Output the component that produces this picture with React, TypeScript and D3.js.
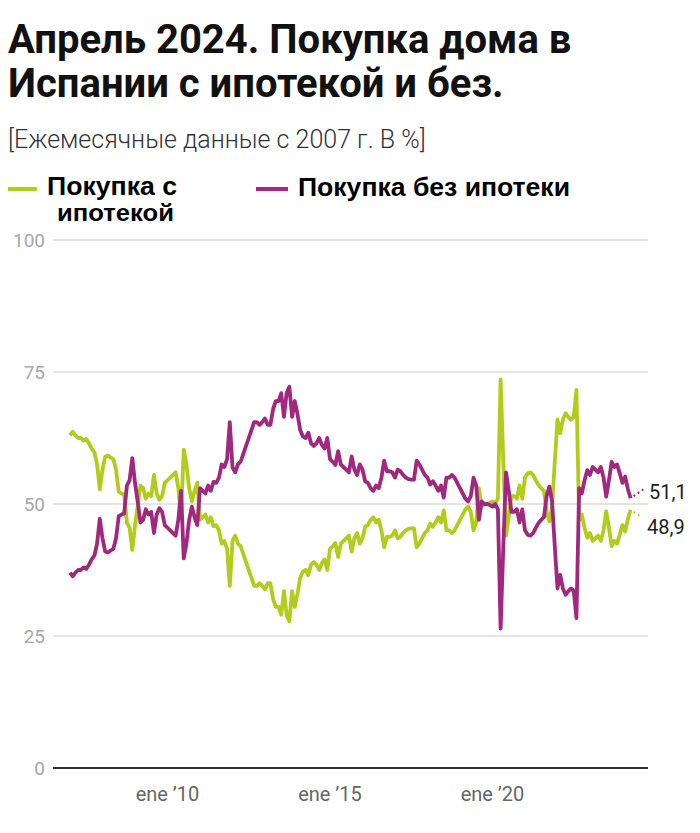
import React from "react";
import * as d3 from "d3";

const titleLines = ["Апрель 2024. Покупка дома в", "Испании с ипотекой и без."];
const subtitle = "[Ежемесячные данные с 2007 г. В %]";
const seriesNames = ["Покупка с", "ипотекой", "Покупка без ипотеки"];

// Monthly shares, Jan 2007 – Apr 2024 (%)
const conHipoteca = [
  63.0, 63.7, 63.0, 62.5, 62.5, 62.0, 62.3, 61.5, 60.5, 59.8, 57.5, 52.8,
  56.5, 59.0, 59.2, 58.8, 58.5, 56.5, 52.3, 52.0, 51.8, 46.5, 45.5, 41.3,
  46.0, 49.5, 53.5, 53.0, 51.0, 52.0, 51.5, 55.5, 52.0, 50.8, 51.5, 54.0,
  54.5, 55.0, 55.5, 56.0, 53.0, 47.5, 60.3, 57.5, 53.0, 50.5, 52.5, 54.0,
  47.0, 47.5, 48.0, 46.5, 47.5, 45.8, 46.0, 45.0, 42.5, 43.0, 41.5, 34.5,
  43.0, 44.0, 42.5, 42.0, 40.5, 39.0, 37.5, 36.0, 34.5, 34.5, 35.0, 34.5,
  33.8, 35.0, 35.0, 32.0, 30.5, 30.5, 29.0, 33.5, 29.0, 27.8, 33.5, 30.5,
  33.0, 36.0, 37.2, 37.5, 36.5, 38.5, 39.0, 38.5, 37.5, 38.8, 39.5, 37.5,
  41.5, 42.0, 42.6, 40.0, 42.5, 43.0, 43.5, 44.0, 41.0, 43.5, 44.5, 42.5,
  43.5, 45.7, 46.0, 47.0, 47.5, 46.5, 47.0, 45.0, 41.8, 43.8, 43.8, 44.0,
  45.0, 43.5, 43.8, 44.5, 45.0, 45.3, 45.4, 45.4, 41.8, 42.5, 43.5, 44.5,
  45.0, 46.3, 45.7, 46.5, 47.5, 46.5, 48.8, 45.0, 45.0, 44.5, 45.0, 46.0,
  47.0, 48.0, 49.0, 49.5, 48.5, 45.0, 46.5, 53.0, 49.5, 50.0, 50.0, 50.2,
  50.5, 50.0, 51.0, 73.6, 58.0, 44.0, 47.5, 51.5, 51.5, 51.0, 53.5, 51.0,
  55.0, 55.8, 56.0, 55.5, 54.5, 53.6, 53.0, 52.5, 48.5, 46.7, 49.5, 58.0,
  66.0, 63.4, 66.0, 67.2, 66.5, 66.0, 66.5, 71.6, 47.0, 48.0, 45.5, 43.6,
  44.5, 43.0, 43.5, 44.0, 43.0, 45.0, 48.6, 45.5, 42.0, 43.0, 42.5, 44.2,
  46.0, 44.8, 47.2, 48.9,
];

const sinHipoteca = [
  37.0, 36.3, 37.0, 37.5, 37.5, 38.0, 37.7, 38.5, 39.5, 40.2, 42.5, 47.2,
  43.5, 41.0, 40.8, 41.2, 41.5, 43.5, 47.7, 48.0, 48.2, 53.5, 54.5, 58.7,
  54.0, 50.5, 46.5, 47.0, 49.0, 48.0, 48.5, 44.5, 48.0, 49.2, 48.5, 46.0,
  45.5, 45.0, 44.5, 44.0, 47.0, 52.5, 39.7, 42.5, 47.0, 49.5, 47.5, 46.0,
  53.0, 52.5, 52.0, 53.5, 52.5, 54.2, 54.0, 55.0, 57.5, 57.0, 58.5, 65.5,
  57.0, 56.0, 57.5, 58.0, 59.5, 61.0, 62.5, 64.0, 65.5, 65.5, 65.0, 65.5,
  66.2, 65.0, 65.0, 68.0, 69.5, 69.5, 71.0, 66.5, 71.0, 72.2, 66.5, 69.5,
  67.0, 64.0, 62.8, 62.5, 63.5, 61.5, 61.0, 61.5, 62.5, 61.2, 60.5, 62.5,
  58.5, 58.0, 57.4, 60.0, 57.5, 57.0, 56.5, 56.0, 59.0, 56.5, 55.5, 57.5,
  56.5, 54.3, 54.0, 53.0, 52.5, 53.5, 53.0, 55.0, 58.2, 56.2, 56.2, 56.0,
  55.0, 56.5, 56.2, 55.5, 55.0, 54.7, 54.6, 54.6, 58.2, 57.5, 56.5, 55.5,
  55.0, 53.7, 54.3, 53.5, 52.5, 53.5, 51.2, 55.0, 55.0, 55.5, 55.0, 54.0,
  53.0, 52.0, 51.0, 50.5, 51.5, 55.0, 53.5, 47.0, 50.5, 50.0, 50.0, 49.8,
  49.5, 50.0, 49.0, 26.4, 42.0, 56.0, 52.5, 48.5, 48.5, 49.0, 46.5, 49.0,
  45.0, 44.2, 44.0, 44.5, 45.5, 46.4, 47.0, 47.5, 51.5, 53.3, 50.5, 42.0,
  34.0, 36.6, 34.0, 32.8, 33.5, 34.0, 33.5, 28.4, 53.0, 52.0, 54.5, 56.4,
  55.5, 57.0, 56.5, 56.0, 57.0, 55.0, 51.4, 54.5, 58.0, 57.0, 57.5, 55.8,
  54.0, 55.2, 52.8, 51.1,
];

const yTicks = [0, 25, 50, 75, 100];
const xTickMonths = [36, 96, 156];
const xTickLabels = ["ene ’10", "ene ’15", "ene ’20"];
const endLabels = ["51,1", "48,9"];

const GREEN = "#b2cc1c";
const PURPLE = "#a2287f";
const LEGEND_FONT = "'Liberation Sans', Arial, sans-serif";

export default function App() {
  const W = 700;
  const H = 833;
  const n = conHipoteca.length;
  const x = d3.scaleLinear().domain([0, n - 1]).range([70, 630.6]);
  const y = d3.scaleLinear().domain([0, 100]).range([768, 240]);
  const line = d3
    .line<number>()
    .x((_, i) => x(i))
    .y((v) => y(v));

  const lastX = x(n - 1);
  const lastP = y(sinHipoteca[n - 1]);
  const lastG = y(conHipoteca[n - 1]);

  return (
    <svg
      width={W}
      height={H}
      style={{ position: "absolute", left: 0, top: 0, background: "#fff" }}
    >
      {/* Title */}
      {titleLines.map((t, i) => (
        <text
          key={t}
          x={8}
          y={53 + i * 44}
          fontFamily="Roboto, 'Liberation Sans', sans-serif"
          fontWeight={700}
          fontSize={40}
          fill="#111"
        >
          {t}
        </text>
      ))}
      <text
        x={8}
        y={148}
        fontFamily="Roboto, sans-serif"
        fontWeight={300}
        fontSize={25}
        fill="#333"
      >
        {subtitle}
      </text>

      {/* Legend */}
      <line x1={8} x2={37} y1={189} y2={189} stroke={GREEN} strokeWidth={4} />
      <text x={47} y={195} fontFamily={LEGEND_FONT} fontWeight={700} fontSize={25} fill="#000" textLength={130} lengthAdjust="spacingAndGlyphs">
        {seriesNames[0]}
      </text>
      <text x={57} y={221} fontFamily={LEGEND_FONT} fontWeight={700} fontSize={23} fill="#000" textLength={117} lengthAdjust="spacingAndGlyphs">
        {seriesNames[1]}
      </text>
      <line x1={256} x2={288} y1={189} y2={189} stroke={PURPLE} strokeWidth={4} />
      <text x={298} y={196} fontFamily={LEGEND_FONT} fontWeight={700} fontSize={25} fill="#000" textLength={272} lengthAdjust="spacingAndGlyphs">
        {seriesNames[2]}
      </text>

      {/* Grid */}
      {yTicks.map((t) => (
        <g key={t}>
          {t > 0 && (
            <line x1={53} x2={648} y1={y(t)} y2={y(t)} stroke="#dcdcdc" strokeWidth={1.5} />
          )}
          <text
            x={45}
            y={y(t)}
            dy="0.35em"
            textAnchor="end"
            fontFamily="Roboto, sans-serif"
            fontSize={19}
            fill="#a8a8a8"
          >
            {t}
          </text>
        </g>
      ))}
      <line x1={53} x2={648} y1={y(0)} y2={y(0)} stroke="#333" strokeWidth={2} />

      {xTickMonths.map((m, i) => (
        <text
          key={m}
          x={x(m)}
          y={801}
          textAnchor="middle"
          fontFamily="Roboto, sans-serif"
          fontSize={20}
          fill="#666"
        >
          {xTickLabels[i]}
        </text>
      ))}

      {/* Lines */}
      <path d={line(conHipoteca) || ""} fill="none" stroke={GREEN} strokeWidth={3.8} strokeLinejoin="round" />
      <path d={line(sinHipoteca) || ""} fill="none" stroke={PURPLE} strokeWidth={3.8} strokeLinejoin="round" />

      {/* End connectors and labels */}
      <line x1={lastX + 3} y1={lastP - 2} x2={lastX + 13} y2={lastP - 9} stroke={PURPLE} strokeWidth={2} strokeDasharray="2,3" />
      <line x1={lastX + 3} y1={lastG + 2} x2={lastX + 11} y2={lastG + 7} stroke={GREEN} strokeWidth={2} strokeDasharray="2,3" />
      <text x={649} y={lastP - 6} dy="0.35em" fontFamily="Roboto, sans-serif" fontSize={20} fill="#222">
        {endLabels[0]}
      </text>
      <text x={647} y={lastG + 17} dy="0.35em" fontFamily="Roboto, sans-serif" fontSize={20} fill="#222">
        {endLabels[1]}
      </text>
    </svg>
  );
}
